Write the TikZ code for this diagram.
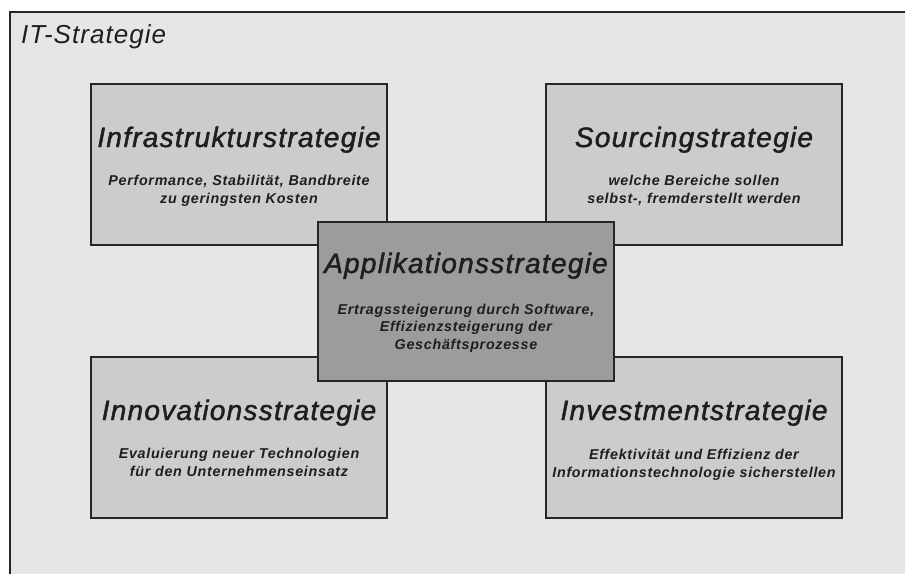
\documentclass[tikz,border=0pt]{standalone}
\usepackage{fontspec}
\setmainfont{Liberation Sans}
\newfontfamily\titlefont[LetterSpace=4.5,FakeBold=1.6]{Liberation Sans}
\newfontfamily\subfont[LetterSpace=5]{Liberation Sans}
\newfontfamily\framefont[LetterSpace=4]{Liberation Sans}
\definecolor{framebg}{HTML}{E6E6E6}
\definecolor{boxbg}{HTML}{CCCCCC}
\definecolor{corebg}{HTML}{9C9C9C}
\definecolor{ink}{HTML}{1E1E1E}
\tikzset{
  strat/.style={draw=black!85, line width=1.4pt, fill=boxbg, minimum width=296pt, minimum height=161pt, inner sep=0pt},
  core/.style={strat, fill=corebg, minimum height=159pt},
  heading/.style={anchor=base, text=ink, font=\titlefont\itshape\fontsize{28}{30}\selectfont, inner sep=0pt},
  % multi-line node: its base anchor sits on the last line
  detail/.style={anchor=base, text=ink, align=center, font=\subfont\bfseries\itshape\fontsize{14.3}{17.5}\selectfont, inner sep=0pt}
}
\begin{document}
\begin{tikzpicture}[x=1pt,y=-1pt]
\useasboundingbox (0,0) rectangle (905,573);
% outer frame, open to the right and bottom
\begin{scope}
\clip (0,0) rectangle (905,573);
\draw[fill=framebg, draw=black!85, line width=1.4pt] (10,12) rectangle (915,585);
\end{scope}
\node[anchor=base west, text=ink, font=\framefont\itshape\fontsize{26}{28}\selectfont, inner sep=0pt] (title) at (21,43) {IT-Strategie};

% four surrounding strategy boxes
\node[strat] (infra) at (239,164.5) {};
\node[strat] (sourcing) at (694,164.5) {};
\node[strat] (innov) at (239,437.5) {};
\node[strat] (invest) at (694,437.5) {};
% central box on top
\node[core] (appl) at (466,301.5) {};

\node[heading] (infraH) at ([yshift=17.5pt]infra.center) {Infrastrukturstrategie};
\node[detail] (infraD) at ([yshift=-38.5pt]infra.center) {Performance, Stabilität, Bandbreite\\zu geringsten Kosten};

\node[heading] (sourcingH) at ([yshift=17.5pt]sourcing.center) {Sourcingstrategie};
\node[detail] (sourcingD) at ([yshift=-38.5pt]sourcing.center) {welche Bereiche sollen\\selbst-, fremderstellt werden};

\node[heading] (innovH) at ([yshift=17.5pt]innov.center) {Innovationsstrategie};
\node[detail] (innovD) at ([yshift=-38.5pt]innov.center) {Evaluierung neuer Technologien\\für den Unternehmenseinsatz};

\node[heading] (investH) at ([yshift=17.5pt]invest.center) {Investmentstrategie};
\node[detail] (investD) at ([yshift=-39.5pt]invest.center) {Effektivität und Effizienz der\\Informationstechnologie sicherstellen};

\node[heading] (applH) at ([yshift=28.5pt]appl.center) {Applikationsstrategie};
\node[detail] (applD) at ([yshift=-47.5pt]appl.center) {Ertragssteigerung durch Software,\\Effizienzsteigerung der\\Geschäftsprozesse};
\end{tikzpicture}
\end{document}
